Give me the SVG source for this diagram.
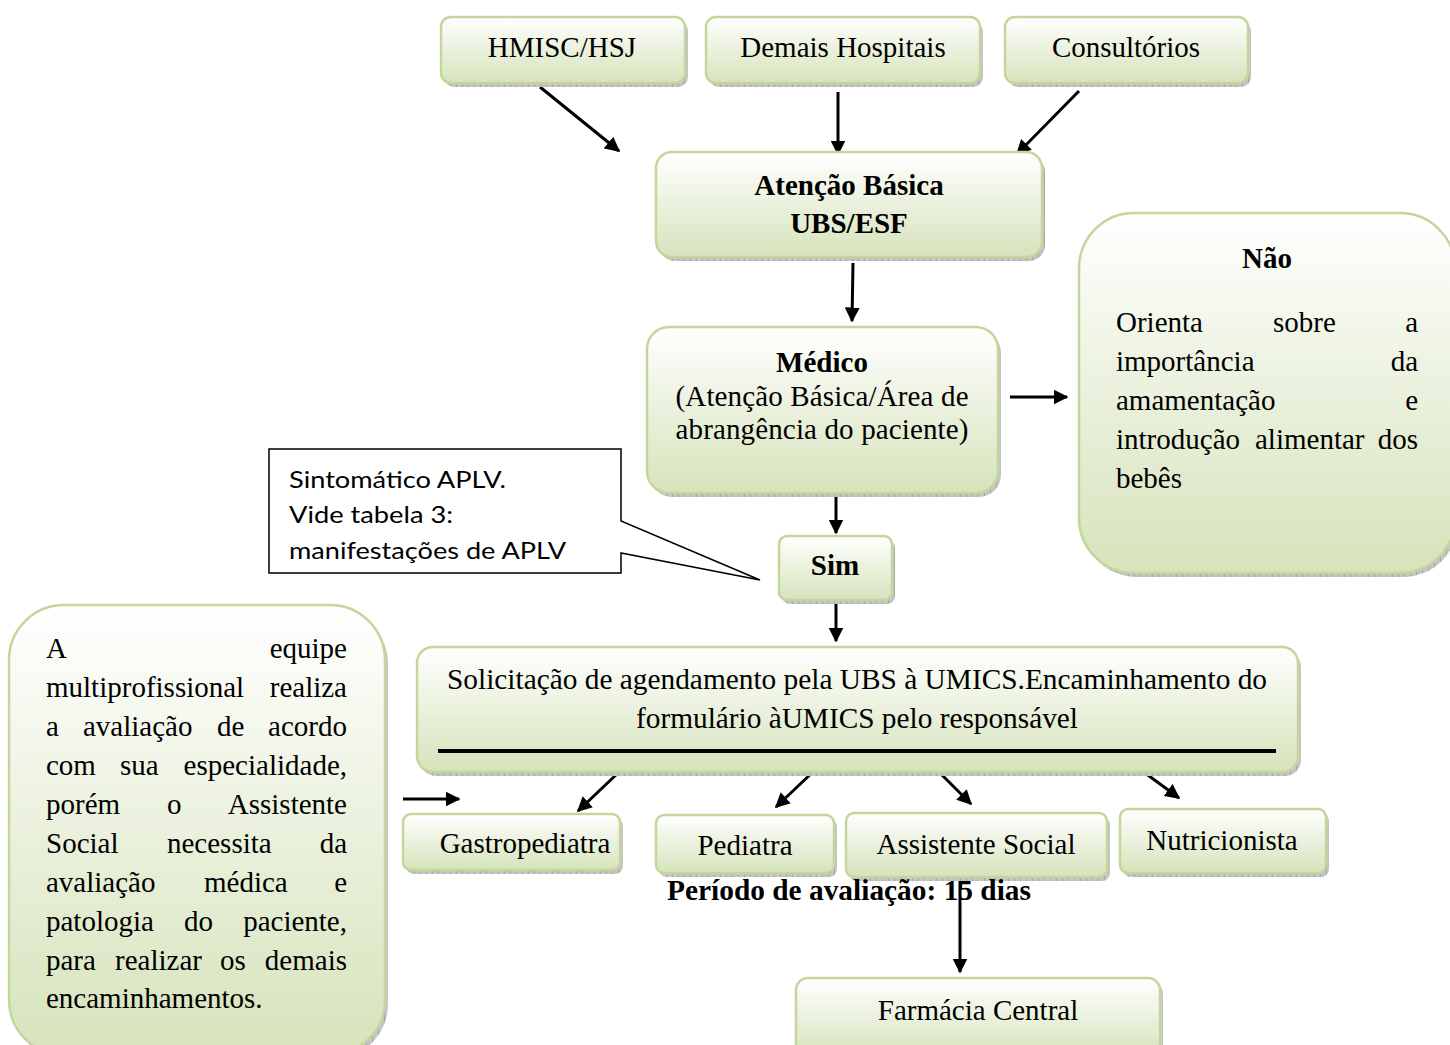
<svg xmlns="http://www.w3.org/2000/svg" width="1450" height="1045" viewBox="0 0 1450 1045">
<style>
.box{fill:url(#g);stroke:#c3d69b;stroke-width:2.5}
.sh{fill:url(#hatch)}
.t{font-family:"Liberation Serif","Times New Roman",serif;font-size:29px;fill:#000}
.b{font-weight:bold}
.m{text-anchor:middle}
.e{text-anchor:end}
.c{font-family:Lato,"Open Sans",sans-serif;font-size:24px;fill:#000}
.ar{stroke:#000;stroke-width:3;fill:none;marker-end:url(#ah)}
</style>
<defs>
<linearGradient id="g" x1="0" y1="0" x2="0" y2="1">
<stop offset="0" stop-color="#ffffff"/>
<stop offset="1" stop-color="#d6e3bb"/>
</linearGradient>
<pattern id="hatch" width="6" height="6" patternUnits="userSpaceOnUse">
<rect width="6" height="6" fill="#c4c4c4"/>
<path d="M0 0V6" stroke="#8a8a8a" stroke-width="1"/>
</pattern>
<marker id="ah" viewBox="0 0 10 10" refX="9" refY="5" markerWidth="5" markerHeight="5" orient="auto" markerUnits="strokeWidth">
<path d="M0 0L10 5L0 10z" fill="#000"/>
</marker>
</defs>
<rect width="1450" height="1045" fill="#fff"/>

<g id="connectors">
<line class="ar" x1="540" y1="87" x2="619" y2="151"/>
<line class="ar" x1="838" y1="92" x2="838" y2="154"/>
<line class="ar" x1="1079" y1="91" x2="1017" y2="154"/>
<line class="ar" x1="853" y1="263" x2="852" y2="321"/>
<line class="ar" x1="1010" y1="397" x2="1067" y2="397"/>
<line class="ar" x1="836" y1="489" x2="836" y2="533"/>
<line class="ar" x1="836" y1="598" x2="836" y2="641"/>
<line class="ar" x1="618" y1="773" x2="578" y2="811"/>
<line class="ar" x1="815" y1="770" x2="776" y2="807"/>
<line class="ar" x1="937" y1="770" x2="971" y2="804"/>
<line class="ar" x1="1141" y1="770" x2="1179" y2="798"/>
<line class="ar" x1="403" y1="799" x2="459" y2="799"/>
<line class="ar" x1="960" y1="880" x2="960" y2="972"/>
</g>

<g id="hmisc">
<rect class="sh" x="444" y="21" width="244" height="66" rx="10"/>
<rect class="box" x="441" y="17" width="244" height="66" rx="10"/>
<text class="t m" x="562" y="57">HMISC/HSJ</text>
</g>
<g id="demais">
<rect class="sh" x="709" y="21" width="274" height="66" rx="10"/>
<rect class="box" x="706" y="17" width="274" height="66" rx="10"/>
<text class="t m" x="843" y="57">Demais Hospitais</text>
</g>
<g id="consultorios">
<rect class="sh" x="1008" y="21" width="243" height="66" rx="10"/>
<rect class="box" x="1005" y="17" width="243" height="66" rx="10"/>
<text class="t m" x="1126" y="57">Consultórios</text>
</g>

<g id="atencao">
<rect class="sh" x="659" y="156" width="386" height="105" rx="16"/>
<rect class="box" x="656" y="152" width="386" height="105" rx="16"/>
<text class="t b m" x="849" y="195">Atenção Básica</text>
<text class="t b m" x="849" y="233">UBS/ESF</text>
</g>

<g id="medico">
<rect class="sh" x="650" y="331" width="351" height="166" rx="22"/>
<rect class="box" x="647" y="327" width="351" height="166" rx="22"/>
<text class="t b m" x="822" y="372">Médico</text>
<text class="t m" x="822" y="406" textLength="293" lengthAdjust="spacing">(Atenção Básica/Área de</text>
<text class="t m" x="822" y="439" textLength="293" lengthAdjust="spacing">abrangência do paciente)</text>
</g>

<g id="nao">
<rect class="sh" x="1082" y="217" width="376" height="360" rx="55"/>
<rect class="box" x="1079" y="213" width="376" height="360" rx="55"/>
<text class="t b m" x="1267" y="268">Não</text>
<text class="t" x="1116" y="332">Orienta</text><text class="t" x="1273" y="332">sobre</text><text class="t e" x="1418" y="332">a</text>
<text class="t" x="1116" y="371">importância</text><text class="t e" x="1418" y="371">da</text>
<text class="t" x="1116" y="410">amamentação</text><text class="t e" x="1418" y="410">e</text>
<text class="t" x="1116" y="449">introdução</text><text class="t" x="1255" y="449">alimentar</text><text class="t e" x="1418" y="449">dos</text>
<text class="t" x="1116" y="488">bebês</text>
</g>

<g id="callout">
<path d="M269 449H621V521L760 580L621 553V573H269Z" fill="#fff" stroke="#000" stroke-width="1.5"/>
<text class="c" x="289" y="488" textLength="217" lengthAdjust="spacingAndGlyphs">Sintomático APLV.</text>
<text class="c" x="289" y="523" textLength="164" lengthAdjust="spacingAndGlyphs">Vide tabela 3:</text>
<text class="c" x="289" y="559" textLength="277" lengthAdjust="spacingAndGlyphs">manifestações de APLV</text>
</g>

<g id="sim">
<rect class="sh" x="782" y="540" width="113" height="64" rx="8"/>
<rect class="box" x="779" y="536" width="113" height="64" rx="8"/>
<text class="t b m" x="835" y="575">Sim</text>
</g>

<g id="equipe">
<rect class="sh" x="12" y="609" width="376" height="450" rx="55"/>
<rect class="box" x="9" y="605" width="376" height="450" rx="55"/>
<text class="t" x="46" y="658">A</text><text class="t e" x="347" y="658">equipe</text>
<text class="t" x="46" y="697">multiprofissional</text><text class="t e" x="347" y="697">realiza</text>
<text class="t" x="46" y="736">a</text><text class="t" x="83" y="736">avaliação</text><text class="t" x="217" y="736">de</text><text class="t e" x="347" y="736">acordo</text>
<text class="t" x="46" y="775">com</text><text class="t" x="120" y="775">sua</text><text class="t e" x="347" y="775">especialidade,</text>
<text class="t" x="46" y="814">porém</text><text class="t" x="167" y="814">o</text><text class="t e" x="347" y="814">Assistente</text>
<text class="t" x="46" y="853">Social</text><text class="t" x="167" y="853">necessita</text><text class="t e" x="347" y="853">da</text>
<text class="t" x="46" y="892">avaliação</text><text class="t" x="204" y="892">médica</text><text class="t e" x="347" y="892">e</text>
<text class="t" x="46" y="931">patologia</text><text class="t" x="184" y="931">do</text><text class="t e" x="347" y="931">paciente,</text>
<text class="t" x="46" y="970">para</text><text class="t" x="115" y="970">realizar</text><text class="t" x="220" y="970">os</text><text class="t e" x="347" y="970">demais</text>
<text class="t" x="46" y="1008">encaminhamentos.</text>
</g>

<g id="solicitacao">
<rect class="sh" x="420" y="651" width="881" height="125" rx="16"/>
<rect class="box" x="417" y="647" width="881" height="125" rx="16"/>
<text class="t m" x="857" y="689" textLength="820" lengthAdjust="spacingAndGlyphs">Solicitação de agendamento pela UBS à UMICS.Encaminhamento do</text>
<text class="t m" x="857" y="728" textLength="442" lengthAdjust="spacingAndGlyphs">formulário àUMICS pelo responsável</text>
<line x1="438" y1="751" x2="1276" y2="751" stroke="#000" stroke-width="4"/>
</g>

<g id="gastro">
<rect class="sh" x="406" y="818" width="217" height="56" rx="8"/>
<rect class="box" x="403" y="814" width="217" height="56" rx="8"/>
<text class="t m" x="525" y="853">Gastropediatra</text>
</g>
<g id="pediatra">
<rect class="sh" x="659" y="819" width="178" height="58" rx="8"/>
<rect class="box" x="656" y="815" width="178" height="58" rx="8"/>
<text class="t m" x="745" y="855">Pediatra</text>
</g>
<g id="assistente">
<rect class="sh" x="849" y="817" width="261" height="64" rx="8"/>
<rect class="box" x="846" y="813" width="261" height="64" rx="8"/>
<text class="t m" x="976" y="854">Assistente Social</text>
</g>
<g id="nutricionista">
<rect class="sh" x="1123" y="813" width="206" height="64" rx="8"/>
<rect class="box" x="1120" y="809" width="206" height="64" rx="8"/>
<text class="t m" x="1222" y="850">Nutricionista</text>
</g>

<text class="t b m" x="849" y="900" textLength="364" lengthAdjust="spacingAndGlyphs">Período de avaliação: 15 dias</text>

<g id="farmacia">
<rect class="sh" x="799" y="982" width="364" height="80" rx="12"/>
<rect class="box" x="796" y="978" width="364" height="80" rx="12"/>
<text class="t m" x="978" y="1020">Farmácia Central</text>
</g>
</svg>
